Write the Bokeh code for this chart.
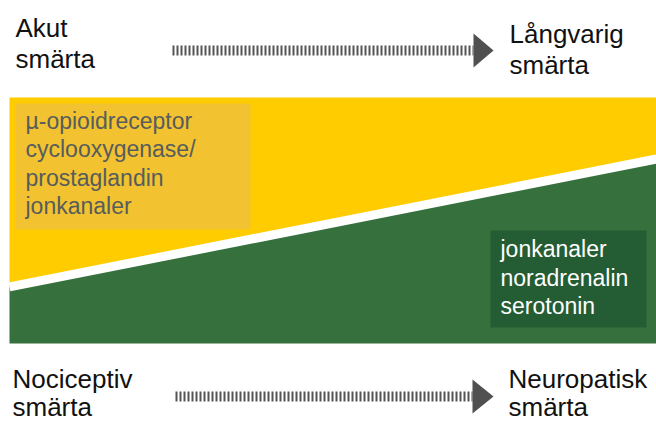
from bokeh.plotting import figure
from bokeh.models import Range1d
from bokeh.core.properties import value
from bokeh.embed import file_html
from bokeh.resources import INLINE

# ---- data -------------------------------------------------------------
stages = [0.0, 1.0]                 # akut -> långvarig smärta
neuropathic_share = [0.23, 0.75]    # share of the panel that is neuropatisk (green)

top_left_label = ["Akut", "smärta"]
top_right_label = ["Långvarig", "smärta"]
bottom_left_label = ["Nociceptiv", "smärta"]
bottom_right_label = ["Neuropatisk", "smärta"]
nociceptive_mechanisms = ["µ-opioidreceptor", "cyclooxygenase/", "prostaglandin", "jonkanaler"]
neuropathic_mechanisms = ["jonkanaler", "noradrenalin", "serotonin"]

# ---- layout (window pixels -> data units) -----------------------------
PX0, PX1 = 9.0, 656.0      # panel left / right in window px
PT, PB = 97.0, 343.0       # panel top / bottom in window px
FW, FH = 656, 423
OX, OY = 0, 0              # figure origin in the window
TXT_SHIFT = 10             # renderer places alphabetic baselines ~10px low


def dx(xw):
    return (xw - PX0) / (PX1 - PX0)


def dy(yw):
    return (PB - yw) / (PB - PT)


def ty(yw):
    return dy(yw - TXT_SHIFT)


p = figure(width=FW, height=FH, output_backend="svg", toolbar_location=None,
           x_range=Range1d(dx(OX), dx(OX + FW)), y_range=Range1d(dy(OY + FH), dy(OY)),
           min_border=0)
p.axis.visible = False
p.grid.visible = False
p.outline_line_color = None
p.background_fill_color = "white"
p.border_fill_color = "white"

YELLOW = "#FFCC00"
YELLOW_BOX = "#F2C230"
GREEN = "#36703C"
GREEN_BOX = "#245C33"
FONT = value("Liberation Sans")

# areas
p.varea(x=stages, y1=neuropathic_share, y2=[1.0] * len(stages), fill_color=YELLOW)
p.varea(x=stages, y1=[0.0] * len(stages), y2=neuropathic_share, fill_color=GREEN)
# white divider
p.line(x=stages, y=neuropathic_share, line_color="white", line_width=9)

# inner boxes
p.quad(left=dx(15), right=dx(250), top=dy(103), bottom=dy(229),
       fill_color=YELLOW_BOX, line_color=None)
p.quad(left=dx(490), right=dx(646), top=dy(230), bottom=dy(327),
       fill_color=GREEN_BOX, line_color=None)

# box texts
p.text(x=[dx(25)] * 4, y=[ty(v) for v in (130, 158, 187, 215)],
       text=nociceptive_mechanisms, text_font=FONT, text_font_size="23px",
       text_color="#575D5D", text_baseline="alphabetic")
p.text(x=[dx(500)] * 3, y=[ty(v) for v in (258, 287, 315)],
       text=neuropathic_mechanisms, text_font=FONT, text_font_size="23px",
       text_color="white", text_baseline="alphabetic")

# corner labels
def label(lines, xw, baselines):
    p.text(x=[dx(xw)] * len(lines), y=[ty(b) for b in baselines], text=lines,
           text_font=FONT, text_font_size="26px", text_color="#111111",
           text_baseline="alphabetic")


label(top_left_label, 15, (37, 68))
label(top_right_label, 509, (43, 74))
label(bottom_left_label, 12, (388, 416))
label(bottom_right_label, 508, (388, 416))


# striped arrows
def arrow(x0, x1, tip, yc, half):
    p.line(x=[dx(x0), dx(x1)], y=[dy(yc), dy(yc)], line_color="#555555",
           line_width=10, line_dash="2 2")
    p.patch(x=[dx(x1), dx(x1), dx(tip)], y=[dy(yc - half), dy(yc + half), dy(yc)],
            fill_color="#505050", line_color=None)


arrow(172, 473, 493, 50, 17)
arrow(175, 472, 493, 396, 17)

open("out.html", "w").write(file_html(p, INLINE))
